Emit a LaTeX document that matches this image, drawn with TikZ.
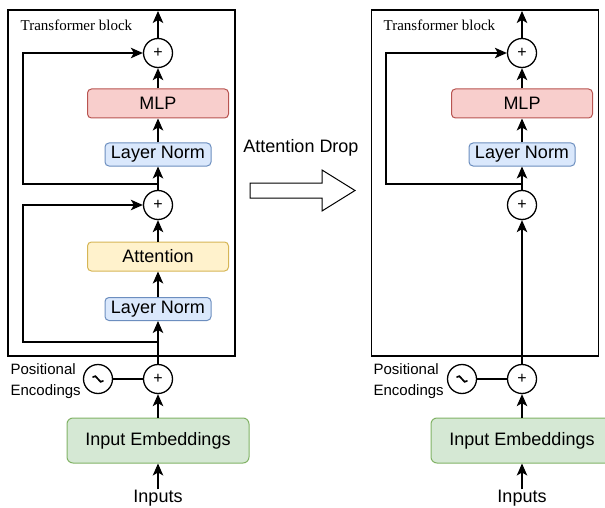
\documentclass[tikz,border=0pt]{standalone}
\usepackage{fontspec}
\setmainfont{Liberation Sans}
\newfontfamily\seriffont{Liberation Serif}
\usetikzlibrary{arrows.meta}
\definecolor{redf}{HTML}{F8CECC}\definecolor{redd}{HTML}{B85450}
\definecolor{bluef}{HTML}{DAE8FC}\definecolor{blued}{HTML}{6C8EBF}
\definecolor{yelf}{HTML}{FFF2CC}\definecolor{yeld}{HTML}{D6B656}
\definecolor{grnf}{HTML}{D5E8D4}\definecolor{grnd}{HTML}{82B366}
\begin{document}
\begin{tikzpicture}[x=1pt,y=-1pt,line width=1.3pt,
  arr/.style={-{Stealth[length=12pt,width=10.5pt,inset=3pt]}},
  bigfont/.style={font=\fontsize{18}{21}\selectfont},
  box/.style={draw,rounded corners=4pt,inner sep=0pt,line width=1pt,bigfont},
  mlpbox/.style={box,fill=redf,draw=redd,minimum width=141pt,minimum height=29pt},
  lnbox/.style={box,fill=bluef,draw=blued,minimum width=106pt,minimum height=23pt},
  attbox/.style={box,fill=yelf,draw=yeld,minimum width=141pt,minimum height=29pt},
  embbox/.style={box,fill=grnf,draw=grnd,minimum width=182pt,minimum height=45pt,rounded corners=6pt},
  frame/.style={draw,line width=1.3pt,minimum width=227pt,minimum height=346pt,inner sep=0pt},
  sumc/.style={draw,circle,fill=white,minimum size=29pt,inner sep=0pt,font=\fontsize{16}{18}\selectfont},
  lbl/.style={inner sep=0pt,bigfont},
  pelbl/.style={inner sep=0pt,align=left,anchor=west,font=\fontsize{15}{21}\selectfont},
  tblbl/.style={inner sep=0pt,anchor=west,font=\seriffont\fontsize{15}{17}\selectfont},
  tilde/.style={line width=1.7pt,line cap=round}
]
\clip (0,0) rectangle (605,508);
\fill[white] (0,0) rectangle (605,508);
% ---------- left ----------
\node[frame] (frL) at (121.5,183) {};
\node[tblbl] (tbL) at (20,25) {Transformer block};
\node[sumc] (p1L) at (158,53) {+};
\node[mlpbox] (mlpL) at (158,103.5) {MLP};
\node[lnbox] (ln2L) at (158,154.5) {Layer Norm};
\node[sumc] (p2L) at (158,205) {+};
\node[attbox] (attL) at (158,256.5) {Attention};
\node[lnbox] (ln1L) at (158,309) {Layer Norm};
\node[sumc] (p3L) at (158,379) {+};
\node[sumc] (tiL) at (98,379) {};
\draw[tilde] ([shift={(-5,-2)}]tiL.center) .. controls ([shift={(-2,-7)}]tiL.center) and ([shift={(2,7)}]tiL.center) .. ([shift={(5,2)}]tiL.center);
\node[pelbl] (peL) at (10,381) {Positional\\Encodings};
\node[embbox] (embL) at (158,440.5) {Input Embeddings};
\node[lbl] (inL) at (158,498) {Inputs};
\coordinate (topL) at (158,11);
\coordinate (s1L) at (158,342);
\coordinate (s2L) at (158,184);
\draw[arr] (inL) -- (embL);
\draw[arr] (embL) -- (p3L);
\draw (tiL) -- (p3L);
\draw[arr] (p3L) -- (ln1L);
\draw[arr] (ln1L) -- (attL);
\draw[arr] (attL) -- (p2L);
\draw[arr] (s1L) -- ++(-135,0) |- (p2L.west);
\draw[arr] (p2L) -- (ln2L);
\draw[arr] (ln2L) -- (mlpL);
\draw[arr] (mlpL) -- (p1L);
\draw[arr] (s2L) -- ++(-135,0) |- (p1L.west);
\draw[arr] (p1L) -- (topL);
% ---------- middle ----------
\node[lbl] (drop) at (301,148) {Attention Drop};
\draw[line width=1pt,fill=white] (250,183) -- (322,183) -- (322,170) -- (355,190.5) -- (322,211) -- (322,198) -- (250,198) -- cycle;
% ---------- right ----------
\node[frame] (frR) at (485,183) {};
\node[tblbl] (tbR) at (383,25) {Transformer block};
\node[sumc] (p1R) at (522,53) {+};
\node[mlpbox] (mlpR) at (522,103.5) {MLP};
\node[lnbox] (ln2R) at (522,154.5) {Layer Norm};
\node[sumc] (p2R) at (522,205) {+};
\node[sumc] (p3R) at (522,379) {+};
\node[sumc] (tiR) at (462,379) {};
\draw[tilde] ([shift={(-5,-2)}]tiR.center) .. controls ([shift={(-2,-7)}]tiR.center) and ([shift={(2,7)}]tiR.center) .. ([shift={(5,2)}]tiR.center);
\node[pelbl] (peR) at (373,381) {Positional\\Encodings};
\node[embbox] (embR) at (522,440.5) {Input Embeddings};
\node[lbl] (inR) at (522,498) {Inputs};
\coordinate (topR) at (522,11);
\coordinate (s2R) at (522,184);
\draw[arr] (inR) -- (embR);
\draw[arr] (embR) -- (p3R);
\draw (tiR) -- (p3R);
\draw[arr] (p3R) -- (p2R);
\draw[arr] (p2R) -- (ln2R);
\draw[arr] (ln2R) -- (mlpR);
\draw[arr] (mlpR) -- (p1R);
\draw[arr] (s2R) -- ++(-136,0) |- (p1R.west);
\draw[arr] (p1R) -- (topR);
\end{tikzpicture}
\end{document}
